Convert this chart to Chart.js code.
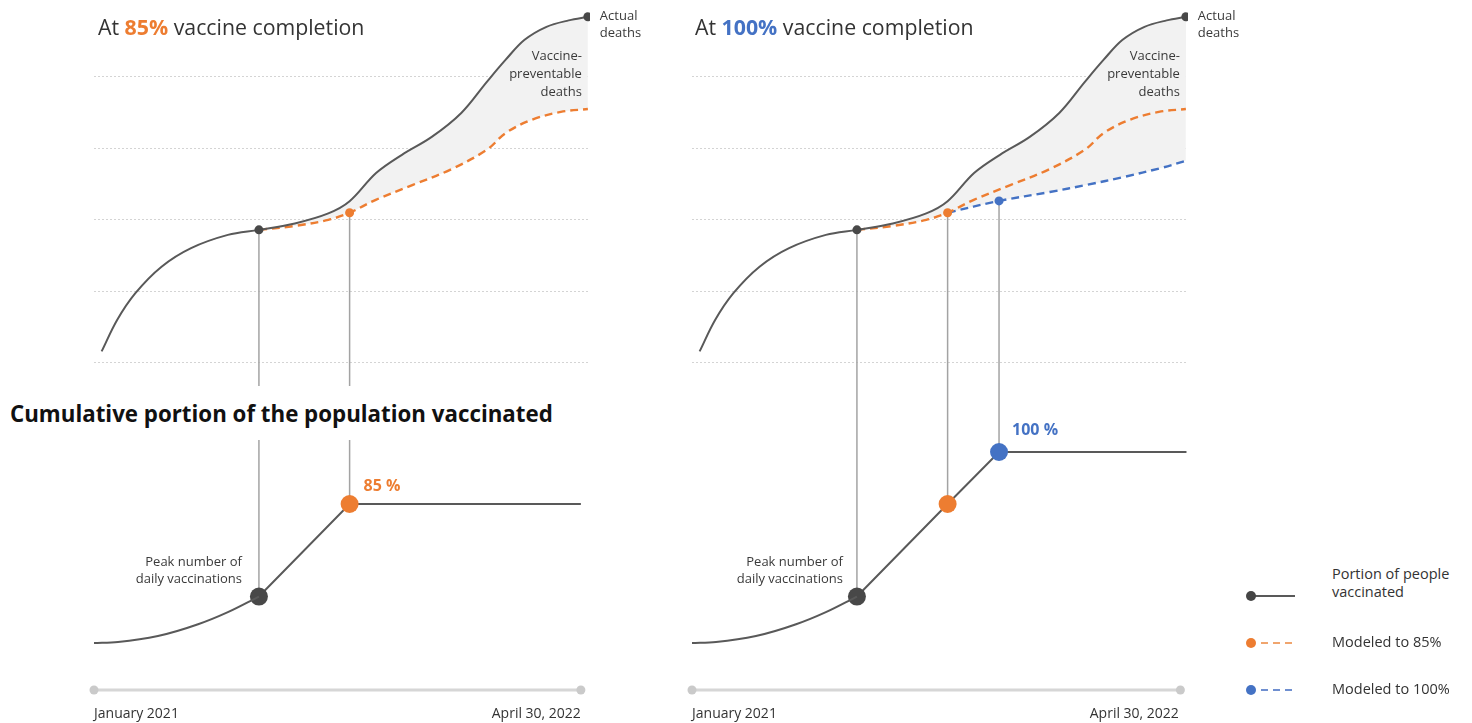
<!DOCTYPE html>
<html>
<head>
<meta charset="utf-8">
<script src="https://cdn.jsdelivr.net/npm/chart.js@4.4.1/dist/chart.umd.min.js"></script>
<style>
  html, body { margin: 0; padding: 0; background: #fff; width: 1472px; height: 723px; overflow: hidden; font-family: 'Open Sans', 'Noto Sans', sans-serif; }
  .wrap { position: absolute; top: 0; width: 660px; height: 723px; }
  #wl { left: 0; }
  #wr { left: 598px; }
  .title { position: absolute; font-size: 21.3px; line-height: 30px; color: #333; white-space: nowrap; z-index: 5; }
  .mask { position: absolute; left: 0; top: 386px; width: 566px; height: 54px; background: #fff; z-index: 4; }
  .heading { position: absolute; left: 10px; top: 399px; font-size: 22.3px; line-height: 30px; font-weight: 700; color: #111; white-space: nowrap; z-index: 5; }
  .leg { position: absolute; left: 1332px; font-size: 14.5px; line-height: 18px; color: #333; white-space: nowrap; z-index: 5; }
  svg.legsym { position: absolute; left: 1240px; top: 580px; z-index: 5; }
</style>
</head>
<body>
<div class="wrap" id="wl"><canvas id="cl" width="660" height="723"></canvas></div>
<div class="wrap" id="wr"><canvas id="cr" width="660" height="723"></canvas></div>

<div class="title" style="left:98px; top:12px;">At <b style="color:#ED7D31">85%</b> vaccine completion</div>
<div class="title" style="left:695px; top:12px;">At <b style="color:#4472C4">100%</b> vaccine completion</div>
<div class="mask"></div>
<div class="heading">Cumulative portion of the population vaccinated</div>

<svg class="legsym" width="70" height="120">
  <line x1="11" y1="16" x2="55" y2="16" stroke="#595959" stroke-width="2"/>
  <circle cx="11" cy="16" r="5" fill="#454545"/>
  <line x1="21" y1="63" x2="55" y2="63" stroke="#F0A56E" stroke-width="2" stroke-dasharray="7,5"/>
  <circle cx="11" cy="63" r="5" fill="#ED7D31"/>
  <line x1="21" y1="110" x2="55" y2="110" stroke="#6F8FD0" stroke-width="2" stroke-dasharray="7,5"/>
  <circle cx="11" cy="110" r="5" fill="#4472C4"/>
</svg>
<div class="leg" style="top:565px;">Portion of people<br>vaccinated</div>
<div class="leg" style="top:633px;">Modeled to 85%</div>
<div class="leg" style="top:680px;">Modeled to 100%</div>

<script>
// ---------- DATA (months since January 2021) ----------
const monthsActual = [0.25, 0.76, 1.36, 2.22, 3.19, 4.40, 5.42, 6.60, 7.70, 8.40, 9.27, 10.12, 11.10, 12.07, 12.91, 13.53, 14.14, 14.87, 15.60, 16.23];
const deathsActual = [3.2, 12.0, 19.5, 26.9, 32.1, 35.8, 37.2, 39.0, 41.8, 45.2, 53.1, 58.2, 63.2, 69.9, 78.6, 84.8, 90.3, 94.0, 95.8, 96.8];

const months85 = [5.42, 6.60, 7.70, 8.40, 9.26, 10.48, 11.70, 12.91, 13.53, 14.39, 15.34, 16.23];
const deaths85 = [37.2, 38.3, 40.0, 42.0, 45.6, 49.8, 54.0, 59.6, 64.3, 68.0, 70.2, 71.0];

const months100 = [8.40, 10.09, 11.76, 12.98, 14.19, 15.41, 16.23];
const deaths100 = [42.0, 45.3, 47.8, 49.8, 52.0, 54.5, 56.5];

const vaxCurveMonths = [0, 0.79, 2.10, 3.42, 4.40, 5.42];
const vaxCurvePct = [44.9, 45.2, 46.9, 50.3, 53.8, 58.3];

const vax85Months = [5.42, 8.40, 16.0];
const vax85Pct = [58.3, 85, 85];

const vax100Months = [5.42, 8.40, 10.09, 16.25];
const vax100Pct = [58.3, 85, 100, 100];

const tickMonths = [0, 16];
const tickLabels = ['January 2021', 'April 30, 2022'];
const deathGridValues = [0, 20, 40, 60, 80];

const peakMonth = 5.42, month85 = 8.40, month100 = 10.09;

// ---------- STYLE ----------
const GRAY = '#595959', DOT = '#484848', ORANGE = '#ED7D31', BLUE = '#4472C4', FILL = '#f2f2f2';
const FONT = "'Open Sans', 'Noto Sans', sans-serif";

const zip = (xs, ys) => xs.map((x, i) => ({ x, y: ys[i] }));

const connectors = {
  id: 'connectors',
  beforeDatasetsDraw(chart, args, opts) {
    const ctx = chart.ctx;
    const xs = chart.scales.x, yb = chart.chartArea.bottom;
    const x0 = xs.getPixelForValue(opts.axis[0]), x1 = xs.getPixelForValue(opts.axis[1]);
    ctx.save();
    ctx.strokeStyle = '#d6d6d6'; ctx.lineWidth = 3;
    ctx.beginPath(); ctx.moveTo(x0, yb); ctx.lineTo(x1, yb); ctx.stroke();
    ctx.fillStyle = '#cacaca';
    [x0, x1].forEach(x => { ctx.beginPath(); ctx.arc(x, yb, 4.5, 0, Math.PI * 2); ctx.fill(); });
    ctx.strokeStyle = '#a3a3a3'; ctx.lineWidth = 1.5;
    opts.links.forEach(l => {
      const a = chart.getDatasetMeta(l.from[0]).data[l.from[1]];
      const b = chart.getDatasetMeta(l.to[0]).data[l.to[1]];
      ctx.beginPath(); ctx.moveTo(a.x, a.y); ctx.lineTo(b.x, b.y); ctx.stroke();
    });
    ctx.restore();
  }
};

const notes = {
  id: 'notes',
  afterDatasetsDraw(chart, args, opts) {
    const ctx = chart.ctx;
    ctx.save();
    ctx.textBaseline = 'middle';
    opts.items.forEach(it => {
      const p = chart.getDatasetMeta(it.ds).data[it.idx];
      ctx.font = it.font; ctx.fillStyle = it.color; ctx.textAlign = it.align;
      it.lines.forEach((t, k) => ctx.fillText(t, p.x + it.dx, p.y + it.dy + k * it.lh));
    });
    ctx.restore();
  }
};

function deathsLine(months, values, color, dotMonth, fillTarget) {
  const dotIdx = dotMonth == null ? -1 : months.indexOf(dotMonth);
  return {
    data: zip(months, values), yAxisID: 'yD',
    borderColor: color, borderWidth: 2.4, borderDash: [8, 5],
    tension: 0.35,
    pointRadius: ctx => ctx.dataIndex === dotIdx ? 4.5 : 0,
    pointBackgroundColor: color, pointBorderWidth: 0,
    fill: fillTarget == null ? false : { target: fillTarget },
    backgroundColor: FILL
  };
}

function actualLine() {
  const peakIdx = monthsActual.indexOf(peakMonth), last = monthsActual.length - 1;
  return {
    data: zip(monthsActual, deathsActual), yAxisID: 'yD',
    borderColor: GRAY, borderWidth: 2, tension: 0.35,
    pointRadius: ctx => (ctx.dataIndex === peakIdx || ctx.dataIndex === last) ? 4.5 : 0,
    pointBackgroundColor: DOT, pointBorderWidth: 0, fill: false
  };
}

function vaxCurve() {
  return {
    data: zip(vaxCurveMonths, vaxCurvePct), yAxisID: 'yV',
    borderColor: GRAY, borderWidth: 2, cubicInterpolationMode: 'monotone',
    pointRadius: 0, fill: false
  };
}

function vaxLine(months, pct, dotColors) {
  return {
    data: zip(months, pct), yAxisID: 'yV',
    borderColor: GRAY, borderWidth: 2, tension: 0,
    pointRadius: months.map((m, i) => dotColors[i] ? 9 : 0),
    pointBackgroundColor: months.map((m, i) => dotColors[i] || GRAY),
    pointBorderWidth: 0, fill: false
  };
}

function options(links, items, axisEnd) {
  return {
    responsive: false, animation: false, events: [],
    layout: { padding: { left: 94, right: 70, top: 10, bottom: 0 } },
    plugins: {
      legend: { display: false }, tooltip: { enabled: false },
      filler: { drawTime: 'beforeDatasetsDraw', propagate: false },
      connectors: { links, axis: [0, axisEnd] },
      notes: { items }
    },
    scales: {
      x: {
        type: 'linear', min: 0, max: 16.3,
        grid: { display: false, drawTicks: false }, border: { display: false },
        afterBuildTicks: s => { s.ticks = tickMonths.map(v => ({ value: v })); },
        afterFit: s => { s.height = 33; },
        ticks: {
          callback: (v, i) => tickLabels[i], align: 'inner', maxRotation: 0, autoSkip: false,
          padding: 16, color: '#333', font: { family: FONT, size: 14 }
        }
      },
      yD: {
        type: 'linear', position: 'left', min: -91.5, max: 98.7,
        afterBuildTicks: s => { s.ticks = deathGridValues.map(v => ({ value: v })); },
        afterFit: s => { s.width = 0; },
        ticks: { display: false },
        grid: { color: '#d4d4d4', lineWidth: 1, drawTicks: false },
        border: { display: false, dash: [2, 2] }
      },
      yV: { type: 'linear', position: 'right', display: false, min: 31.35, max: 227.5 }
    }
  };
}

const smallFont = '13px ' + FONT;
const idx = { peak: monthsActual.indexOf(peakMonth), last: monthsActual.length - 1, o: months85.indexOf(month85) };

// ---------- LEFT PANEL (85%) ----------
new Chart(document.getElementById('cl'), {
  type: 'line',
  data: {
    datasets: [
      actualLine(),
      deathsLine(months85, deaths85, ORANGE, month85, 0),
      vaxCurve(),
      vaxLine(vax85Months, vax85Pct, [DOT, ORANGE, null])
    ]
  },
  options: options(
    [{ from: [0, idx.peak], to: [3, 0] }, { from: [1, idx.o], to: [3, 1] }],
    [
      { ds: 0, idx: idx.last, dx: 12, dy: 0, lh: 17, align: 'left', font: smallFont, color: '#3a3a3a', lines: ['Actual', 'deaths'] },
      { ds: 0, idx: idx.last, dx: -6, dy: 40, lh: 18, align: 'right', font: smallFont, color: '#3a3a3a', lines: ['Vaccine-', 'preventable', 'deaths'] },
      { ds: 3, idx: 1, dx: 14, dy: -18, lh: 18, align: 'left', font: 'bold 16px ' + FONT, color: ORANGE, lines: ['85 %'] },
      { ds: 3, idx: 0, dx: -17, dy: -34, lh: 17, align: 'right', font: smallFont, color: '#3a3a3a', lines: ['Peak number of', 'daily vaccinations'] }
    ],
    16
  ),
  plugins: [connectors, notes]
});

// ---------- RIGHT PANEL (100%) ----------
new Chart(document.getElementById('cr'), {
  type: 'line',
  data: {
    datasets: [
      actualLine(),
      deathsLine(months85, deaths85, ORANGE, month85, 0),
      deathsLine(months100, deaths100, BLUE, month100, 0),
      vaxCurve(),
      vaxLine(vax100Months, vax100Pct, [DOT, ORANGE, BLUE, null])
    ]
  },
  options: options(
    [
      { from: [0, idx.peak], to: [4, 0] },
      { from: [1, idx.o], to: [4, 1] },
      { from: [2, months100.indexOf(month100)], to: [4, 2] }
    ],
    [
      { ds: 0, idx: idx.last, dx: 12, dy: 0, lh: 17, align: 'left', font: smallFont, color: '#3a3a3a', lines: ['Actual', 'deaths'] },
      { ds: 0, idx: idx.last, dx: -6, dy: 40, lh: 18, align: 'right', font: smallFont, color: '#3a3a3a', lines: ['Vaccine-', 'preventable', 'deaths'] },
      { ds: 4, idx: 2, dx: 13, dy: -22, lh: 18, align: 'left', font: 'bold 16px ' + FONT, color: BLUE, lines: ['100 %'] },
      { ds: 4, idx: 0, dx: -14, dy: -34, lh: 17, align: 'right', font: smallFont, color: '#3a3a3a', lines: ['Peak number of', 'daily vaccinations'] }
    ],
    16.05
  ),
  plugins: [connectors, notes]
});
</script>
</body>
</html>
